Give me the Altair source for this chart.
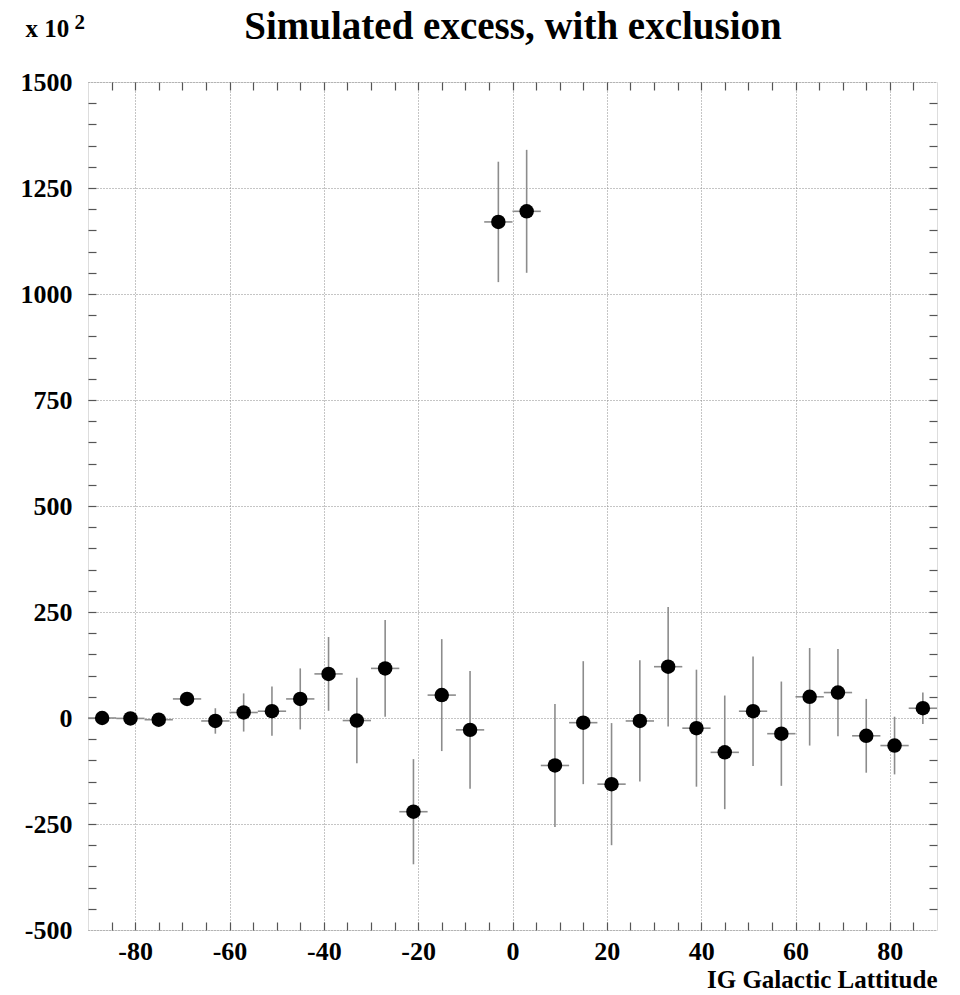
import altair as alt
import pandas as pd

# ---- data (values in units of 10^2) ----
lat = [-87, -81, -75, -69, -63, -57, -51, -45, -39, -33, -27, -21, -15, -9, -3,
       3, 9, 15, 21, 27, 33, 39, 45, 51, 57, 63, 69, 75, 81, 87]
excess = [0, -1, -4, 45, -7, 13, 16, 45, 104, -6, 117, -221, 54, -28, 1170,
          1195, -112, -11, -156, -7, 121, -24, -81, 16, -37, 50, 60, -42, -65, 23]
err = [4, 5, 7, 12, 30, 45, 58, 72, 87, 101, 114, 124, 132, 139, 142,
       145, 145, 145, 144, 143, 141, 138, 134, 129, 123, 115, 103, 87, 68, 37]
bin_width = 6

x_major = [-80, -60, -40, -20, 0, 20, 40, 60, 80]
y_major = [-500, -250, 0, 250, 500, 750, 1000, 1250, 1500]
x_minor = list(range(-85, 90, 5))
y_minor = list(range(-450, 1500, 50))

df = pd.DataFrame({"lat": lat, "excess": excess, "err": err})
df["lo"] = df["excess"] - df["err"]
df["hi"] = df["excess"] + df["err"]
df["xlo"] = df["lat"] - bin_width / 2
df["xhi"] = df["lat"] + bin_width / 2

FONT = "Liberation Serif"
W, H = 849, 848
TICK = 8

xs = alt.Scale(domain=[-90, 90], nice=False, zero=False)
ys = alt.Scale(domain=[-500, 1500], nice=False, zero=False)


def tick_axis(orient, values, **kw):
    return alt.Axis(orient=orient, values=values, labels=False, grid=False,
                    domain=False, ticks=True, tickSize=TICK, tickColor="#555555",
                    tickWidth=1.2, offset=-TICK, **kw)


axis_x_main = alt.Axis(
    orient="bottom", values=x_major, grid=True, gridDash=[1, 2],
    gridColor="#8a8a8a", gridWidth=1, ticks=False, domain=False,
    labelExpr="'' + datum.value",
    labelFont=FONT, labelFontWeight="bold", labelFontSize=26,
    labelColor="black", labelPadding=8,
    title="IG Galactic Lattitude", titleFont=FONT, titleFontWeight="bold",
    titleFontSize=25, titleColor="black", titleAlign="right",
    titleAnchor="end", titleX=W, titleY=57, titleBaseline="alphabetic")

axis_y_main = alt.Axis(
    orient="left", values=y_major, grid=True, gridDash=[1, 2],
    gridColor="#8a8a8a", gridWidth=1, ticks=False, domain=False,
    labelExpr="'' + datum.value",
    labelFont=FONT, labelFontWeight="bold", labelFontSize=26,
    labelColor="black", labelPadding=16,
    title="x 10", titleFont=FONT, titleFontWeight="bold", titleFontSize=25,
    titleColor="black", titleAngle=0, titleAlign="left",
    titleBaseline="alphabetic", titleX=-63, titleY=-46)

vbars = alt.Chart(df).mark_rule(color="#8c8c8c", strokeWidth=1.6).encode(
    x=alt.X("lat:Q", scale=xs, axis=tick_axis("bottom", x_minor, title=None)),
    y=alt.Y("lo:Q", scale=ys, axis=tick_axis("left", y_minor, title=None)),
    y2="hi:Q",
)

hbars = alt.Chart(df).mark_rule(color="#8c8c8c", strokeWidth=1.6).encode(
    x=alt.X("xlo:Q", scale=xs, axis=tick_axis(
        "top", x_minor, title="Simulated excess, with exclusion",
        titleFont=FONT, titleFontWeight="bold", titleFontSize=39,
        titleColor="black", titleAlign="center", titleBaseline="alphabetic",
        titleX=W / 2, titleY=38 - 82 - TICK)),
    x2="xhi:Q",
    y=alt.Y("excess:Q", scale=ys, axis=tick_axis(
        "right", y_minor, title="2", titleFont=FONT, titleFontWeight="bold",
        titleFontSize=21, titleColor="black", titleAngle=0, titleAlign="left",
        titleBaseline="alphabetic", titleX=74 - 88 - (W - TICK), titleY=28 - 82)),
)

points = alt.Chart(df).mark_circle(size=210, color="black", opacity=1).encode(
    x=alt.X("lat:Q", scale=xs, axis=axis_x_main),
    y=alt.Y("excess:Q", scale=ys, axis=axis_y_main),
)

chart = alt.layer(vbars, hbars, points).resolve_axis(
    x="independent", y="independent"
).properties(
    width=W, height=H,
    padding={"left": 88, "top": 82, "right": 23, "bottom": 65},
    autosize=alt.AutoSizeParams(type="none"),
).configure_view(
    stroke="#4d4d4d", strokeWidth=1.5
).configure(background="white")

chart.save("out.html", embed_options={"renderer": "svg", "actions": False})
